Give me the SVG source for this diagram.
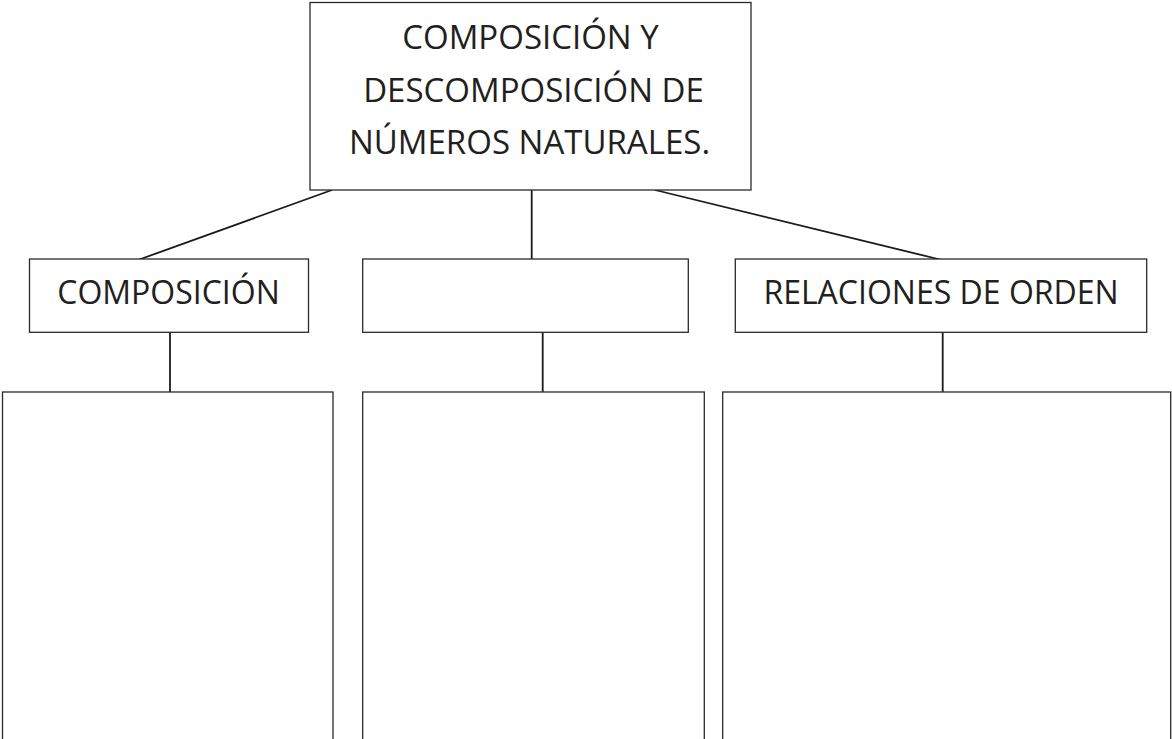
<svg xmlns="http://www.w3.org/2000/svg" width="1172" height="739" viewBox="0 0 1172 739">
<style>
.box{fill:#fff;stroke:#2a2a2a;stroke-width:1.3}
.lbl{font-family:"Open Sans","Liberation Sans",sans-serif;fill:#231f20;text-anchor:middle}
.con{stroke:#1a1a1a;stroke-width:1.8;fill:none}
</style>
<rect width="1172" height="739" fill="#fff"/>
<g id="connectors">
<line class="con" x1="332" y1="190" x2="138" y2="260"/>
<line class="con" x1="531.7" y1="190" x2="531.7" y2="259"/>
<line class="con" x1="655" y1="190" x2="942" y2="260"/>
<line class="con" x1="170" y1="332" x2="170" y2="393"/>
<line class="con" x1="542.7" y1="332" x2="542.7" y2="393"/>
<line class="con" x1="942.7" y1="332" x2="942.7" y2="393"/>
</g>
<g id="root">
<rect class="box" x="310" y="2.5" width="441" height="187.5"/>
<text class="lbl" font-size="33" x="530.5" y="49">COMPOSICIÓN Y</text>
<text class="lbl" font-size="33" x="533.5" y="101.5">DESCOMPOSICIÓN DE</text>
<text class="lbl" font-size="33" x="529.5" y="154">NÚMEROS NATURALES.</text>
</g>
<g id="composicion">
<rect class="box" x="29.5" y="259" width="279" height="73.3"/>
<text class="lbl" font-size="32" x="168.5" y="304">COMPOSICIÓN</text>
</g>
<g id="middle">
<rect class="box" x="362.7" y="259" width="325.6" height="73.3"/>
</g>
<g id="relaciones">
<rect class="box" x="735.3" y="259" width="411.4" height="73.3"/>
<text class="lbl" font-size="32" x="941" y="304">RELACIONES DE ORDEN</text>
</g>
<g id="detail-left">
<rect class="box" x="2.5" y="392" width="330.5" height="360"/>
</g>
<g id="detail-middle">
<rect class="box" x="362.7" y="392" width="341.6" height="360"/>
</g>
<g id="detail-right">
<rect class="box" x="722.7" y="392" width="448" height="360"/>
</g>
</svg>
